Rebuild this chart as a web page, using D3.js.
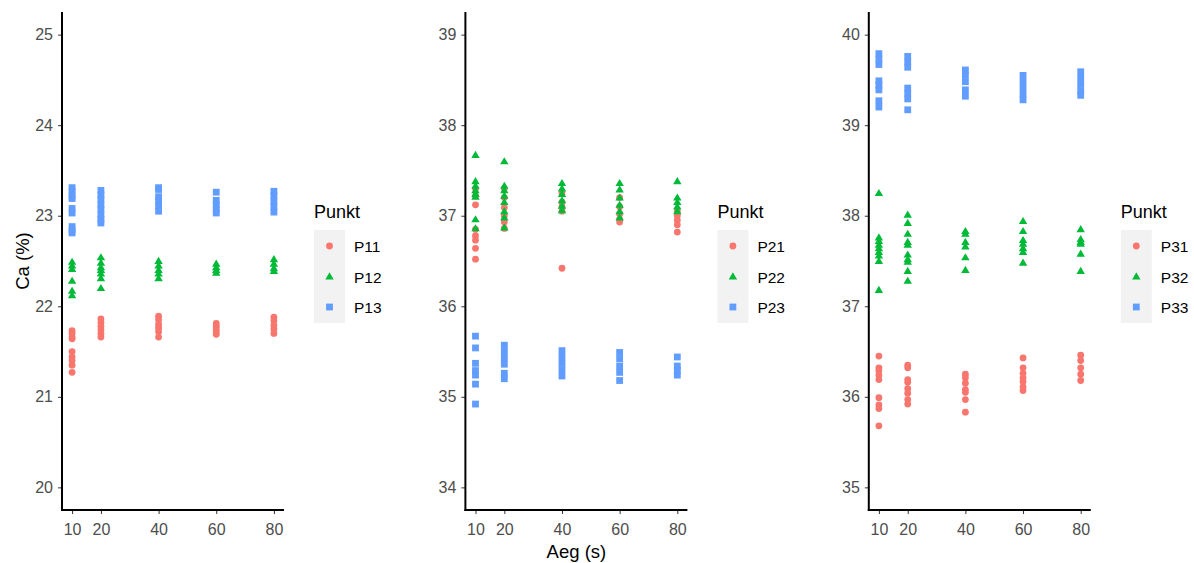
<!DOCTYPE html>
<html>
<head>
<meta charset="utf-8">
<script src="https://cdn.jsdelivr.net/npm/d3@7"></script>
<style>
  body { margin: 0; background: #fff; }
  svg { font-family: "Liberation Sans", Arial, sans-serif; }
  .tick line { stroke: #333; }
</style>
</head>
<body>
<svg width="1194" height="563"></svg>
<script>
// x values (Aeg, s) and tick labels
var aeg = [10, 20, 40, 60, 80];

// Panel 1 : Ca (%) per Aeg, one inner list per x value
var p11 = [[21.73, 21.70, 21.66, 21.64, 21.50, 21.44, 21.40, 21.35, 21.27],
           [21.86, 21.82, 21.78, 21.74, 21.70, 21.66],
           [21.89, 21.85, 21.80, 21.76, 21.72, 21.66],
           [21.81, 21.78, 21.75, 21.72, 21.69],
           [21.88, 21.84, 21.79, 21.75, 21.70]];
var p12 = [[22.49, 22.45, 22.41, 22.28, 22.17, 22.12],
           [22.54, 22.48, 22.43, 22.40, 22.36, 22.31, 22.20],
           [22.50, 22.45, 22.40, 22.36, 22.31],
           [22.47, 22.43, 22.40, 22.37],
           [22.52, 22.47, 22.42, 22.39]];
var p13 = [[23.31, 23.27, 23.22, 23.19, 23.08, 23.03, 22.88, 22.84, 22.81],
           [23.28, 23.23, 23.18, 23.12, 23.07, 23.01, 22.96, 22.92],
           [23.31, 23.29, 23.21, 23.16, 23.11, 23.05],
           [23.26, 23.17, 23.12, 23.07, 23.03],
           [23.27, 23.22, 23.16, 23.10, 23.04]];

// Panel 2
var p21 = [[37.30, 37.22, 37.12, 36.85, 36.78, 36.73, 36.64, 36.52],
           [37.30, 37.20, 37.09, 37.00, 36.93, 36.86],
           [37.25, 37.15, 37.10, 37.05, 36.42],
           [37.20, 37.10, 37.02, 36.96, 36.93],
           [37.05, 37.00, 36.95, 36.90, 36.82]];
var p22 = [[37.67, 37.38, 37.33, 37.28, 37.24, 37.21, 36.96, 36.86],
           [37.60, 37.33, 37.28, 37.22, 37.15, 37.05, 36.98, 36.87],
           [37.36, 37.30, 37.24, 37.17, 37.11, 37.06],
           [37.36, 37.29, 37.20, 37.12, 37.05, 36.98],
           [37.38, 37.20, 37.15, 37.10, 37.05]];
var p23 = [[35.67, 35.54, 35.37, 35.29, 35.24, 35.14, 34.92],
           [35.57, 35.50, 35.43, 35.36, 35.26, 35.20],
           [35.51, 35.44, 35.37, 35.30, 35.23],
           [35.49, 35.42, 35.34, 35.27, 35.18],
           [35.44, 35.34, 35.29, 35.24]];

// Panel 3
var p31 = [[36.45, 36.32, 36.29, 36.24, 36.19, 35.99, 35.91, 35.87, 35.68],
           [36.35, 36.32, 36.19, 36.16, 36.09, 36.04, 35.97, 35.92],
           [36.25, 36.21, 36.15, 36.08, 36.05, 35.97, 35.83],
           [36.43, 36.32, 36.26, 36.21, 36.17, 36.11, 36.07],
           [36.46, 36.40, 36.32, 36.25, 36.18]];
var p32 = [[38.25, 37.76, 37.72, 37.68, 37.64, 37.60, 37.56, 37.50, 37.18],
           [38.01, 37.92, 37.80, 37.71, 37.68, 37.57, 37.52, 37.49, 37.39, 37.28],
           [37.83, 37.80, 37.71, 37.66, 37.54, 37.40],
           [37.94, 37.83, 37.73, 37.69, 37.64, 37.60, 37.48],
           [37.85, 37.74, 37.71, 37.69, 37.58, 37.39]];
var p33 = [[39.79, 39.73, 39.67, 39.49, 39.44, 39.39, 39.27, 39.20],
           [39.76, 39.70, 39.64, 39.41, 39.35, 39.29, 39.17],
           [39.61, 39.55, 39.48, 39.39, 39.32],
           [39.55, 39.48, 39.41, 39.34, 39.28],
           [39.59, 39.52, 39.45, 39.38, 39.33]];

var panels = [
  {ticks: [20, 21, 22, 23, 24, 25], names: ["P11", "P12", "P13"], series: [p11, p12, p13]},
  {ticks: [34, 35, 36, 37, 38, 39], names: ["P21", "P22", "P23"], series: [p21, p22, p23]},
  {ticks: [35, 36, 37, 38, 39, 40], names: ["P31", "P32", "P33"], series: [p31, p32, p33]}
];

var colors = ["#F8766D", "#00BA38", "#619CFF"];

var plotTop = 12, plotH = 498, plotW = 222,
    panelLeft = 62, panelStep = 403.4;

var svg = d3.select("svg");

// draws one ggplot style shape: circle, triangle, square
function shape(g, k, cx, cy, col) {
  if (k == 0) {
    g.append("circle").attr("cx", cx).attr("cy", cy).attr("r", 3.4).style("fill", col);
  } else if (k == 1) {
    var s = 4.2;
    g.append("path")
      .attr("d", "M" + cx + "," + (cy - s) + "L" + (cx + s) + "," + (cy + s * 0.7) + "L" + (cx - s) + "," + (cy + s * 0.7) + "Z")
      .style("fill", col);
  } else {
    g.append("rect").attr("x", cx - 3.4).attr("y", cy - 3.4)
      .attr("width", 6.8).attr("height", 6.8).style("fill", col);
  }
}

function styleTicks(a) {
  a.select(".domain").remove();
  a.selectAll(".tick text")
    .style("font-family", "'Liberation Sans', Arial, sans-serif")
    .style("font-size", "16px")
    .style("fill", "#4d4d4d");
}

panels.forEach(function(p, i) {
  var lo = d3.min(p.ticks), hi = d3.max(p.ticks), pad = (hi - lo) * 0.05;

  var x = d3.scaleLinear().domain([6.5, 83.5]).range([0, plotW]),
      y = d3.scaleLinear().domain([lo - pad, hi + pad]).range([plotH, 0]);

  var g = svg.append("g")
      .attr("transform", "translate(" + (panelLeft + i * panelStep) + "," + plotTop + ")");

  // axes
  g.append("g")
      .call(d3.axisLeft(y).tickValues(p.ticks).tickFormat(d3.format("d")).tickSize(4).tickPadding(5))
      .call(styleTicks);

  g.append("g")
      .attr("transform", "translate(0," + plotH + ")")
      .call(d3.axisBottom(x).tickValues(aeg).tickFormat(d3.format("d")).tickSize(4).tickPadding(10))
      .call(styleTicks);

  g.append("line").attr("x1", 0).attr("x2", 0).attr("y1", 0).attr("y2", plotH + 1)
      .style("stroke", "#000").style("stroke-width", 2);
  g.append("line").attr("x1", -1).attr("x2", plotW).attr("y1", plotH).attr("y2", plotH)
      .style("stroke", "#000").style("stroke-width", 2);

  // points
  var pts = g.append("g");
  p.series.forEach(function(s, k) {
    s.forEach(function(vals, j) {
      vals.forEach(function(v) {
        shape(pts, k, x(aeg[j]), y(v), colors[k]);
      });
    });
  });

  // legend
  var lg = svg.append("g")
      .attr("transform", "translate(" + (314 + i * panelStep) + ",0)");
  lg.append("text").attr("x", 0).attr("y", 218)
      .style("font-size", "18px").style("fill", "#000").text("Punkt");
  lg.append("rect").attr("x", 0).attr("y", 230).attr("width", 31).attr("height", 93)
      .style("fill", "#f2f2f2");
  p.names.forEach(function(n, k) {
    var cy = 246 + k * 30.5;
    shape(lg, k, 15.5, cy, colors[k]);
    lg.append("text").attr("x", 40).attr("y", cy + 6)
      .style("font-size", "15.5px").style("fill", "#000").text(n);
  });
});

// axis titles
svg.append("text")
    .attr("transform", "translate(29," + (plotTop + plotH / 2) + ") rotate(-90)")
    .attr("text-anchor", "middle")
    .style("font-size", "18.5px")
    .text("Ca (%)");

svg.append("text")
    .attr("x", panelLeft + panelStep + plotW / 2)
    .attr("y", 558)
    .attr("text-anchor", "middle")
    .style("font-size", "18.5px")
    .text("Aeg (s)");
</script>
</body>
</html>
